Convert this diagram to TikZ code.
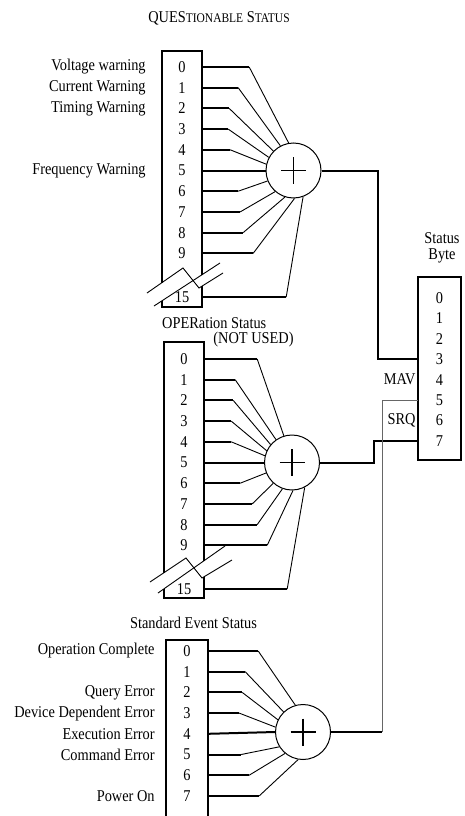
\documentclass[tikz,border=0pt]{standalone}
\usepackage{fontspec}
\setmainfont{Liberation Serif}[FakeStretch=0.87]
\usetikzlibrary{positioning}
\newcommand\regfont{\fontsize{16.5}{16}\selectfont}
\newcommand\smallcapsfont{\fontsize{13.2}{12}\selectfont}
\tikzset{
  regline/.style={line width=2pt},
  fanline/.style={line width=0.9pt},
  sumnode/.style={circle,draw,line width=1pt,minimum size=55pt,inner sep=0pt},
  plusline/.style={line width=1.8pt},
  bit/.style={inner sep=0pt,minimum width=40pt,font=\regfont},
  lbl/.style={inner sep=0pt,font=\regfont},
  srqline/.style={line width=1pt,black!60},
}
\begin{document}
\begin{tikzpicture}[x=1pt,y=-1pt]
\useasboundingbox (0,0) rectangle (464,816);

% QUEStionable status register
   \node[lbl] at (219,18) (qtitle) {QUES{\smallcapsfont TIONABLE} S{\smallcapsfont TATUS}};
   \draw[regline] (162,282.6) -- (162,51) -- (202,51) -- (202,274.7);
   \draw[regline] (162,300.8) -- (162,307) -- (202,307) -- (202,286.1);
   \draw[fanline] (147,293) -- (183,268) -- (199,288) -- (223,273);
   \draw[fanline] (154,306) -- (220,263);

   \node[bit] at (182,67)    (q0) {0};
   \node[bit] at (182,87.7)  (q1) {1};
   \node[bit] at (182,108.4) (q2) {2};
   \node[bit] at (182,129.1) (q3) {3};
   \node[bit] at (182,149.8) (q4) {4};
   \node[bit] at (182,170.5) (q5) {5};
   \node[bit] at (182,191.2) (q6) {6};
   \node[bit] at (182,211.9) (q7) {7};
   \node[bit] at (182,232.6) (q8) {8};
   \node[bit] at (182,253.3) (q9) {9};
   \node[bit] at (182,297)   (q15) {15};

   \node[lbl,left=16pt of q0] (qlbl0) {Voltage warning};
   \node[lbl,left=16pt of q1] (qlbl1) {Current Warning};
   \node[lbl,left=16pt of q2] (qlbl2) {Timing Warning};
   \node[lbl,left=16pt of q5] (qlbl5) {Frequency Warning};

   \node[sumnode] at (293.5,170.5) (qsum) {};
   \draw[plusline] (qsum) ++(-12.5,0) -- ++(25,0);
   \draw[plusline] (qsum) ++(0,-13.5) -- ++(0,27);

   \draw[regline] (q0.east) -- ++(47,0) coordinate (qb0);  \draw[fanline] (qb0) -- (qsum.100);
   \draw[regline] (q1.east) -- ++(36,0) coordinate (qb1);  \draw[fanline] (qb1) -- (qsum.118);
   \draw[regline] (q2.east) -- ++(27,0) coordinate (qb2);  \draw[fanline] (qb2) -- (qsum.136);
   \draw[regline] (q3.east) -- ++(26,0) coordinate (qb3);  \draw[fanline] (qb3) -- (qsum.152);
   \draw[regline] (q4.east) -- ++(28,0) coordinate (qb4);  \draw[fanline] (qb4) -- (qsum.167);
   \draw[regline] (q5.east) -- (qsum.west);
   \draw[regline] (q6.east) -- ++(36,0) coordinate (qb6);  \draw[fanline] (qb6) -- (qsum.202);
   \draw[regline] (q7.east) -- ++(38,0) coordinate (qb7);  \draw[fanline] (qb7) -- (qsum.229);
   \draw[regline] (q8.east) -- ++(41,0) coordinate (qb8);  \draw[fanline] (qb8) -- (qsum.252);
   \draw[regline] (q9.east) -- ++(51,0) coordinate (qb9);  \draw[fanline] (qb9) -- (qsum.272);
   \draw[regline] (q15.east) -- ++(84,0) coordinate (qb15); \draw[fanline] (qb15) -- (qsum.290);

% OPERation status register
   \node[lbl,anchor=west] at (162,323) (otitle) {OPERation Status};
   \node[lbl] at (253.5,340) (onote) {(NOT USED)};
   \draw[regline] (164,572.7) -- (164,342) -- (204,342) -- (204,560.7);
   \draw[regline] (164,588.8) -- (164,598) -- (204,598) -- (204,576.8);
   \draw[fanline] (150,582) -- (186,558) -- (202,578) -- (232,560);
   \draw[fanline] (158,593) -- (225,546);

   \node[bit] at (184,359)   (o0) {0};
   \node[bit] at (184,379.7) (o1) {1};
   \node[bit] at (184,400.4) (o2) {2};
   \node[bit] at (184,421.1) (o3) {3};
   \node[bit] at (184,441.8) (o4) {4};
   \node[bit] at (184,462.5) (o5) {5};
   \node[bit] at (184,483.2) (o6) {6};
   \node[bit] at (184,503.9) (o7) {7};
   \node[bit] at (184,524.6) (o8) {8};
   \node[bit] at (184,545.3) (o9) {9};
   \node[bit] at (184,589)   (o15) {15};

   \node[sumnode] at (292,462.5) (osum) {};
   \draw[plusline] (osum) ++(-12.5,0) -- ++(25,0);
   \draw[plusline] (osum) ++(0,-13.5) -- ++(0,27);

   \draw[regline] (o0.east) -- ++(53,0) coordinate (ob0);  \draw[fanline] (ob0) -- (osum.107);
   \draw[regline] (o1.east) -- ++(31,0) coordinate (ob1);  \draw[fanline] (ob1) -- (osum.125);
   \draw[regline] (o2.east) -- ++(29,0) coordinate (ob2);  \draw[fanline] (ob2) -- (osum.140);
   \draw[regline] (o3.east) -- ++(27,0) coordinate (ob3);  \draw[fanline] (ob3) -- (osum.155);
   \draw[regline] (o4.east) -- ++(27,0) coordinate (ob4);  \draw[fanline] (ob4) -- (osum.166);
   \draw[regline] (o5.east) -- (osum.west);
   \draw[regline] (o6.east) -- ++(36,0) coordinate (ob6);  \draw[fanline] (ob6) -- (osum.202);
   \draw[regline] (o7.east) -- ++(48,0) coordinate (ob7);  \draw[fanline] (ob7) -- (osum.228);
   \draw[regline] (o8.east) -- ++(53,0) coordinate (ob8);  \draw[fanline] (ob8) -- (osum.250);
   \draw[regline] (o9.east) -- ++(63,0) coordinate (ob9);  \draw[fanline] (ob9) -- (osum.272);
   \draw[regline] (o15.east) -- ++(83,0) coordinate (ob15); \draw[fanline] (ob15) -- (osum.297);

% Standard event status register
   \node[lbl] at (193.5,623) (etitle) {Standard Event Status};
   \draw[regline] (166,816) -- (166,640) -- (208,640) -- (208,816);

   \node[bit,minimum width=42pt] at (187,651)   (e0) {0};
   \node[bit,minimum width=42pt] at (187,671.7) (e1) {1};
   \node[bit,minimum width=42pt] at (187,692.4) (e2) {2};
   \node[bit,minimum width=42pt] at (187,713.1) (e3) {3};
   \node[bit,minimum width=42pt] at (187,733.8) (e4) {4};
   \node[bit,minimum width=42pt] at (187,754.5) (e5) {5};
   \node[bit,minimum width=42pt] at (187,775.2) (e6) {6};
   \node[bit,minimum width=42pt] at (187,795.9) (e7) {7};

   \node[lbl,left=11pt of e0] (elbl0) {Operation Complete};
   \node[lbl,left=11pt of e2] (elbl2) {Query Error};
   \node[lbl,left=11pt of e3] (elbl3) {Device Dependent Error};
   \node[lbl,left=11pt of e4] (elbl4) {Execution Error};
   \node[lbl,left=11pt of e5] (elbl5) {Command Error};
   \node[lbl,left=11pt of e7] (elbl7) {Power On};

   \node[sumnode] at (303,732) (esum) {};
   \draw[plusline] (esum) ++(-12.5,0) -- ++(25,0);
   \draw[plusline] (esum) ++(0,-13.5) -- ++(0,27);

   \draw[regline] (e0.east) -- ++(50,0) coordinate (eb0);  \draw[fanline] (eb0) -- (esum.106);
   \draw[regline] (e1.east) -- ++(37,0) coordinate (eb1);  \draw[fanline] (eb1) -- (esum.134);
   \draw[regline] (e2.east) -- ++(34,0) coordinate (eb2);  \draw[fanline] (eb2) -- (esum.154);
   \draw[regline] (e3.east) -- ++(31,0) coordinate (eb3);  \draw[fanline] (eb3) -- (esum.170);
   \draw[regline] (e4.east) -- (esum.west);
   \draw[regline] (e5.east) -- ++(33,0) coordinate (eb5);  \draw[fanline] (eb5) -- (esum.212);
   \draw[regline] (e6.east) -- ++(41,0) coordinate (eb6);  \draw[fanline] (eb6) -- (esum.230);
   \draw[regline] (e7.east) -- ++(51,0) coordinate (eb7);  \draw[fanline] (eb7) -- (esum.260);

% Status byte
   \node[lbl,align=center] at (442,248) (stitle) {Status\\Byte};
   \draw[regline] (418,277) rectangle (461,460);
   \node[bit,minimum width=43pt] at (439.5,298)   (s0) {0};
   \node[bit,minimum width=43pt] at (439.5,318.4) (s1) {1};
   \node[bit,minimum width=43pt] at (439.5,338.8) (s2) {2};
   \node[bit,minimum width=43pt] at (439.5,359.2) (s3) {3};
   \node[bit,minimum width=43pt] at (439.5,379.6) (s4) {4};
   \node[bit,minimum width=43pt] at (439.5,400)   (s5) {5};
   \node[bit,minimum width=43pt] at (439.5,420.4) (s6) {6};
   \node[bit,minimum width=43pt] at (439.5,440.8) (s7) {7};
   \node[lbl,left=2pt of s4] (mav) {MAV};
   \node[lbl,left=2pt of s6] (srq) {SRQ};

   \coordinate (qturn) at (378,359.2);
   \coordinate (oturn) at (374,440.8);
   \coordinate (eturn) at (382,732);
   \draw[regline] (qsum.east) -| (qturn) -- (s3.west);
   \draw[regline] (osum.east) -| (oturn) -- (s7.west);
   \draw[regline] (esum.east) -- (eturn);
   \draw[srqline] (eturn) |- (s5.west);

\end{tikzpicture}
\end{document}
